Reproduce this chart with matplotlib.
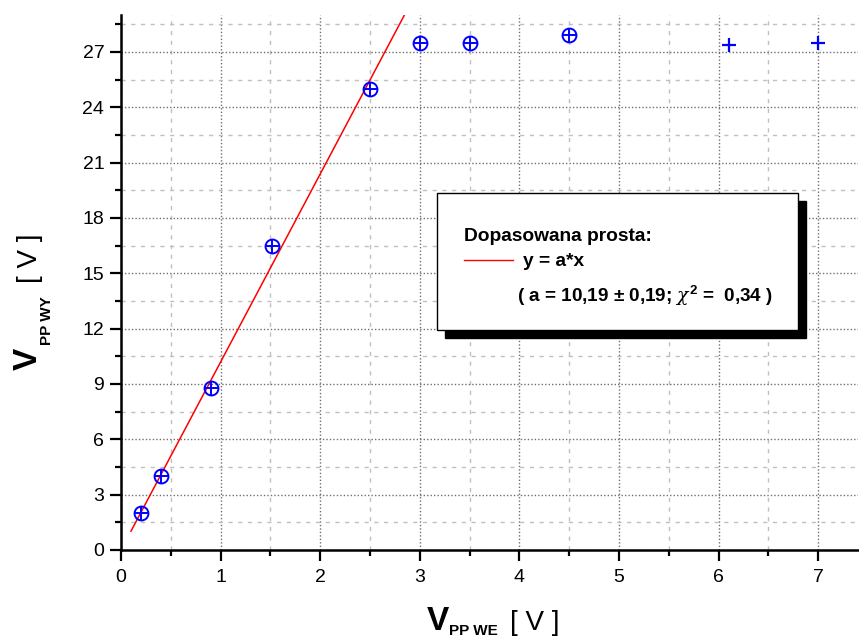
import numpy as np
import matplotlib
matplotlib.use("Agg")
import matplotlib.pyplot as plt
from matplotlib.patches import Rectangle
from matplotlib.ticker import MultipleLocator

plt.rcParams['font.family'] = ['Liberation Sans', 'DejaVu Sans']
plt.rcParams['mathtext.fontset'] = 'custom'
plt.rcParams['mathtext.rm'] = 'Liberation Sans'
plt.rcParams['mathtext.it'] = 'DejaVu Serif:italic'
plt.rcParams['mathtext.bf'] = 'Liberation Sans:bold'

# measured points (input vs output peak-to-peak voltage)
v_we_fit = [0.2, 0.4, 0.9, 1.52, 2.5, 3.0, 3.5, 4.5]
v_wy_fit = [2.0, 4.0, 8.8, 16.5, 25.0, 27.5, 27.5, 27.9]
v_we_sat = [6.1, 7.0]
v_wy_sat = [27.4, 27.5]

# fitted slope y = a*x
a_fit = 10.19
a_err = 0.19
chi2 = 0.34
x_line = [0.1, 2.846]

W, H = 859, 639
fig = plt.figure(figsize=(W / 100, H / 100), dpi=100)
ax = fig.add_axes([121 / W, 1 - 550 / H, (858 - 121) / W, (550 - 15) / H])

blue = '#0000ff'
ax.plot(v_we_fit, v_wy_fit, 'o', ms=10, mfc='none', mec=blue, mew=1.4, zorder=4)
ax.plot(v_we_fit, v_wy_fit, '+', ms=10, mec=blue, mew=1.4, zorder=4)
ax.plot(v_we_sat, v_wy_sat, '+', ms=10, mec=blue, mew=1.6, zorder=4)
ax.plot(x_line, [a_fit * x for x in x_line], color='red', lw=1.1, zorder=3)

ax.set_xlim(0, 7.4)
ax.set_ylim(0, 29)
ax.xaxis.set_major_locator(MultipleLocator(1))
ax.xaxis.set_minor_locator(MultipleLocator(0.5))
ax.yaxis.set_major_locator(MultipleLocator(3))
ax.yaxis.set_minor_locator(MultipleLocator(1.5))

ax.grid(which='major', color='#707070', ls=(0, (1, 1.5)), lw=1.0)
ax.grid(which='minor', color='#c0c0c0', ls=(0, (3, 4)), lw=1.0)
ax.set_axisbelow(True)

for s in ['top', 'right']:
    ax.spines[s].set_visible(False)
for s in ['left', 'bottom']:
    ax.spines[s].set_linewidth(1.8)
ax.tick_params(which='major', direction='out', length=8, width=1.6, labelsize=14)
ax.tick_params(axis='x', which='major', pad=6)
ax.tick_params(axis='y', which='major', pad=4)
ax.tick_params(which='minor', direction='out', length=4.5, width=1.6)

# axis labels built from pieces: bold V, bold subscript, plain unit
fig.text(427 / W, 1 - 630 / H, 'V', fontsize=24, fontweight='bold', ha='left', va='baseline')
fig.text(449 / W, 1 - 635 / H, 'PP WE', fontsize=11, fontweight='bold', ha='left', va='baseline')
fig.text(510 / W, 1 - 630 / H, '[ V ]', fontsize=20, ha='left', va='baseline')

fig.text(37 / W, 1 - 370 / H, 'V', fontsize=24, fontweight='bold', rotation=90,
         rotation_mode='anchor', ha='left', va='baseline')
fig.text(51 / W, 1 - 345 / H, 'PP WY', fontsize=11, fontweight='bold', rotation=90,
         rotation_mode='anchor', ha='left', va='baseline')
fig.text(37 / W, 1 - 283 / H, '[ V ]', fontsize=20, rotation=90,
         rotation_mode='anchor', ha='left', va='baseline')

# legend panel with drop shadow
def px_box(x0, y0, x1, y1):
    return (x0 / W, 1 - y1 / H), (x1 - x0) / W, (y1 - y0) / H

xy, w, h = px_box(445, 201, 806, 338)
fig.add_artist(Rectangle(xy, w, h, transform=fig.transFigure, facecolor='black', edgecolor='black', zorder=5))
xy, w, h = px_box(437, 193, 798, 330)
fig.add_artist(Rectangle(xy, w, h, transform=fig.transFigure, facecolor='white', edgecolor='black', lw=1.0, zorder=6))

fig.text(464 / W, 1 - 241 / H, 'Dopasowana prosta:', fontsize=13.8, fontweight='bold', ha='left', va='baseline', zorder=7)
fig.add_artist(plt.Line2D([464 / W, 513 / W], [1 - 260 / H, 1 - 260 / H], transform=fig.transFigure, color='red', lw=1.0, zorder=7))
fig.text(523 / W, 1 - 266 / H, 'y = a*x', fontsize=13.8, fontweight='bold', ha='left', va='baseline', zorder=7)
fig.text(517 / W, 1 - 302 / H,
         '( a = %s \u00b1 %s; $\\chi^{\\mathbf{2}}$ =  %s )' % (
             f'{a_fit:.2f}'.replace('.', ','), f'{a_err:.2f}'.replace('.', ','), f'{chi2:.2f}'.replace('.', ',')),
         fontsize=13.6, fontweight='bold', ha='left', va='baseline', zorder=7)

fig.savefig('out.png', dpi=100)
